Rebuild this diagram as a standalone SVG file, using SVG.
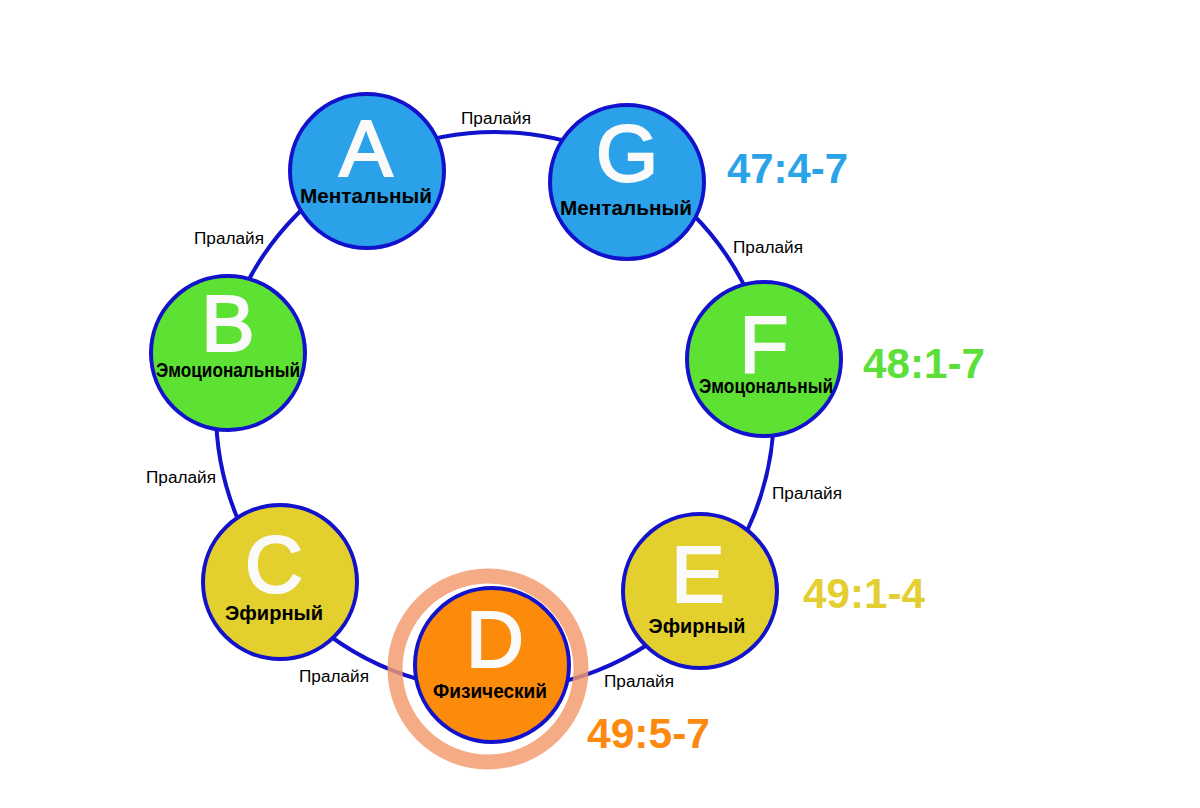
<svg xmlns="http://www.w3.org/2000/svg" width="1200" height="808" viewBox="0 0 1200 808">
<style>
.node{stroke:#1212cc;stroke-width:4}
.blue{fill:#2aa1e8}.green{fill:#5de233}.yellow{fill:#e3d02f}.orange{fill:#fc8a0b}
.letter{font-family:"Liberation Sans",Arial,sans-serif;font-size:80px;fill:#fbfafb;stroke:#fbfafb;stroke-width:2.2;text-anchor:middle}
.lbl{font-family:"Liberation Sans",Arial,sans-serif;font-size:21px;font-weight:bold;fill:#000;text-anchor:middle}
.pr{font-family:"Liberation Sans",Arial,sans-serif;font-size:16px;fill:#000;text-anchor:middle}
.num{font-family:"Liberation Sans",Arial,sans-serif;font-size:42px;font-weight:bold}
</style>
<rect width="1200" height="808" fill="#fff"/>
<g id="connectors">
<circle cx="495" cy="411" r="279" fill="none" stroke="#1212cc" stroke-width="4"/>
</g>
<g id="halo">
<circle cx="488" cy="669" r="93" fill="none" stroke="#f3986a" stroke-width="15" opacity="0.82"/>
</g>
<g id="labels-pralaya">
<text class="pr" x="496" y="124" textLength="70" lengthAdjust="spacingAndGlyphs">Пралайя</text>
<text class="pr" x="229" y="244" textLength="70" lengthAdjust="spacingAndGlyphs">Пралайя</text>
<text class="pr" x="768" y="253" textLength="70" lengthAdjust="spacingAndGlyphs">Пралайя</text>
<text class="pr" x="181" y="483" textLength="70" lengthAdjust="spacingAndGlyphs">Пралайя</text>
<text class="pr" x="807" y="499" textLength="70" lengthAdjust="spacingAndGlyphs">Пралайя</text>
<text class="pr" x="334" y="682" textLength="70" lengthAdjust="spacingAndGlyphs">Пралайя</text>
<text class="pr" x="639" y="687" textLength="70" lengthAdjust="spacingAndGlyphs">Пралайя</text>
</g>
<g id="node-A">
<circle class="node blue" cx="367" cy="171" r="77"/>
<text class="letter" x="366" y="176">A</text>
<text class="lbl" x="366" y="203" textLength="132" lengthAdjust="spacingAndGlyphs">Ментальный</text>
</g>
<g id="node-G">
<circle class="node blue" cx="627" cy="182" r="77"/>
<text class="letter" x="627" y="181">G</text>
<text class="lbl" x="626" y="215" textLength="132" lengthAdjust="spacingAndGlyphs">Ментальный</text>
</g>
<g id="node-B">
<circle class="node green" cx="228" cy="353" r="77"/>
<text class="letter" x="228" y="351">B</text>
<text class="lbl" x="228" y="377" textLength="144" lengthAdjust="spacingAndGlyphs">Эмоциональный</text>
</g>
<g id="node-F">
<circle class="node green" cx="764" cy="359" r="77"/>
<text class="letter" x="764" y="372">F</text>
<text class="lbl" x="766" y="393" textLength="134" lengthAdjust="spacingAndGlyphs">Эмоцональный</text>
</g>
<g id="node-C">
<circle class="node yellow" cx="280" cy="582" r="77"/>
<text class="letter" x="274" y="592">C</text>
<text class="lbl" x="274" y="620" textLength="98" lengthAdjust="spacingAndGlyphs">Эфирный</text>
</g>
<g id="node-E">
<circle class="node yellow" cx="700" cy="591" r="77"/>
<text class="letter" x="698" y="602">E</text>
<text class="lbl" x="697" y="633" textLength="97" lengthAdjust="spacingAndGlyphs">Эфирный</text>
</g>
<g id="node-D">
<circle class="node orange" cx="492" cy="665" r="77"/>
<text class="letter" x="495" y="667">D</text>
<text class="lbl" x="490" y="698" textLength="114" lengthAdjust="spacingAndGlyphs">Физический</text>
</g>
<g id="numbers">
<text class="num" x="727" y="183" fill="#2ba3e8" textLength="121" lengthAdjust="spacingAndGlyphs">47:4-7</text>
<text class="num" x="863" y="378" fill="#5ddf3a" textLength="122" lengthAdjust="spacingAndGlyphs">48:1-7</text>
<text class="num" x="803" y="608" fill="#e4cf32" textLength="122" lengthAdjust="spacingAndGlyphs">49:1-4</text>
<text class="num" x="587" y="748" fill="#fc8a10" textLength="123" lengthAdjust="spacingAndGlyphs">49:5-7</text>
</g>
</svg>
